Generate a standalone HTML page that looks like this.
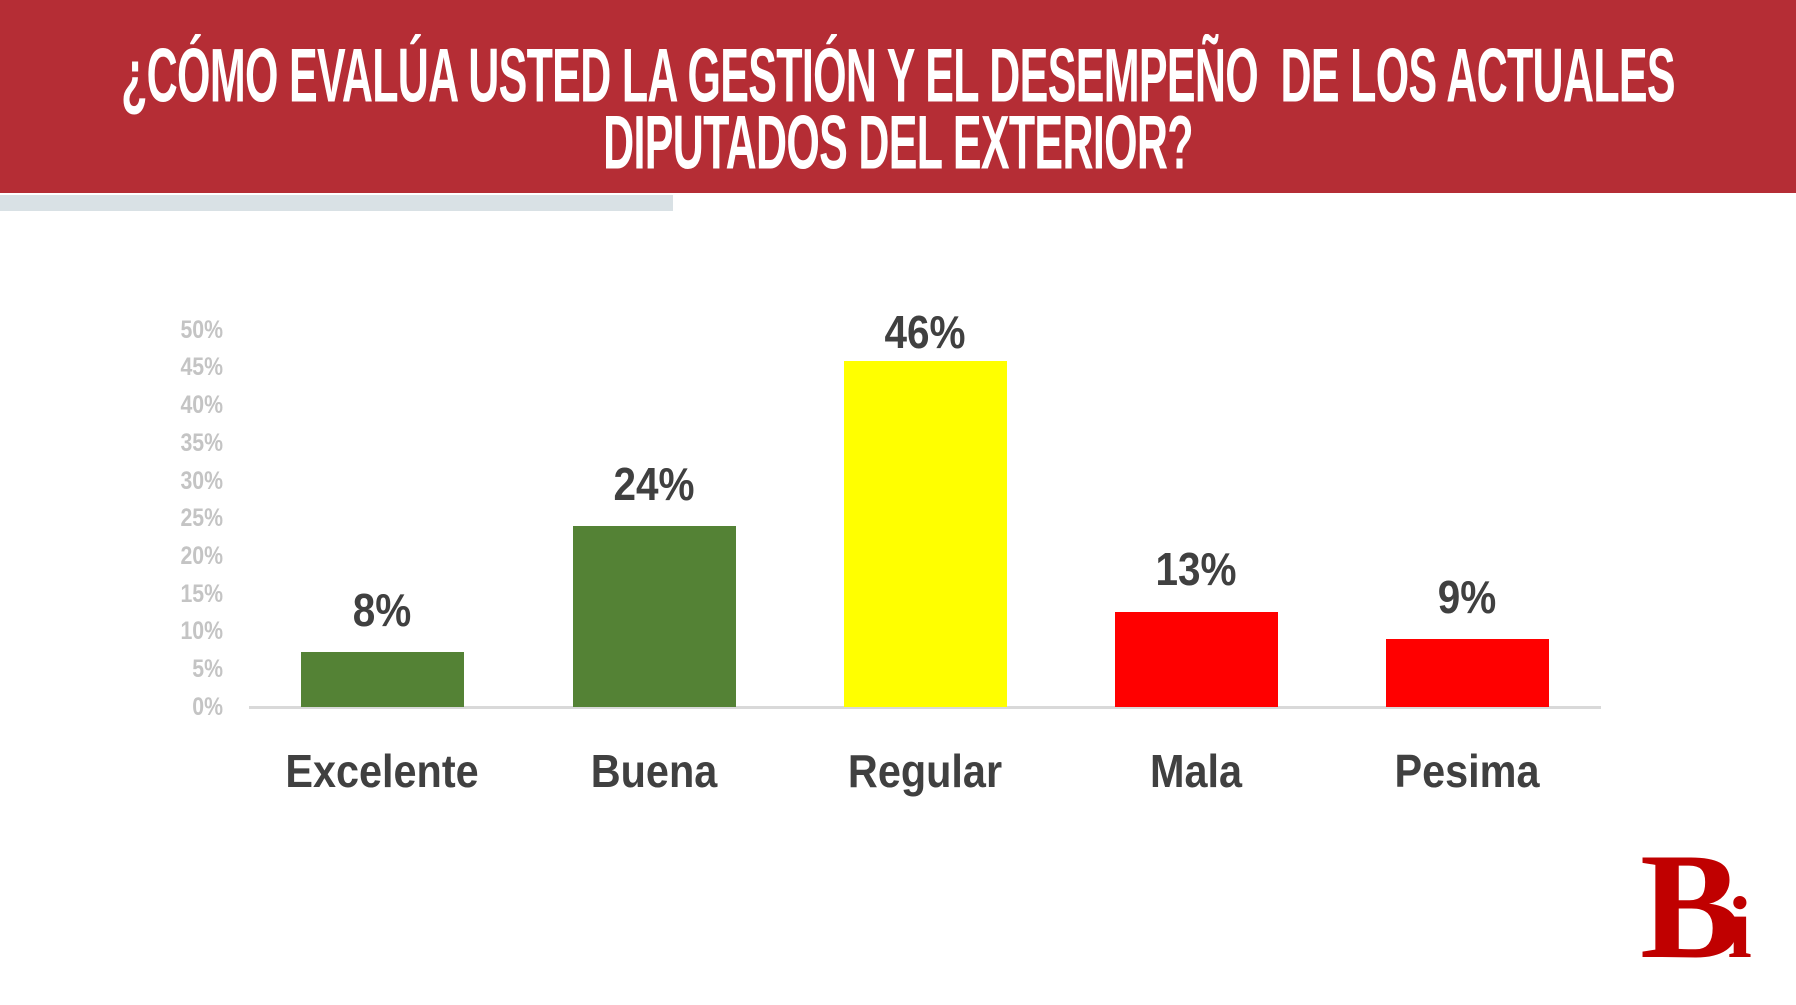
<!DOCTYPE html>
<html><head><meta charset="utf-8"><style>
body{margin:0;width:1796px;height:998px;background:#fff;position:relative;overflow:hidden;font-family:"Liberation Sans",sans-serif}
.hdr{position:absolute;left:0;top:0;width:1796px;height:193px;background:#b52d35}
.t{position:absolute;left:-1000px;width:3796px;text-align:center;color:#fff;font-weight:bold;font-size:62px;line-height:62px;white-space:nowrap;transform:scale(0.694,1.22);letter-spacing:-1px}
.g{position:absolute;left:0;top:195px;width:673px;height:16px;background:#d9e1e5}
.tick{position:absolute;width:80px;left:143px;text-align:right;color:#c4c4c4;font-size:25px;line-height:25px;font-weight:bold;transform:scaleX(0.85);transform-origin:right}
.bar{position:absolute;width:163px}
.v{position:absolute;width:200px;text-align:center;color:#404040;font-weight:bold;font-size:46px;line-height:46px;transform:scaleX(0.88)}
.c{position:absolute;width:260px;text-align:center;color:#404040;font-weight:bold;font-size:46px;line-height:46px;top:748px;transform:scaleX(0.9)}
</style></head><body>
<div class="hdr"></div>
<div class="t" style="top:46px">¿CÓMO EVALÚA USTED LA GESTIÓN Y EL DESEMPEÑO&nbsp; DE LOS ACTUALES</div>
<div class="t" style="top:113px">DIPUTADOS DEL EXTERIOR?</div>
<div class="g"></div>
<div class="tick" style="top:318px">50%</div>
<div class="tick" style="top:355px">45%</div>
<div class="tick" style="top:393px">40%</div>
<div class="tick" style="top:431px">35%</div>
<div class="tick" style="top:469px">30%</div>
<div class="tick" style="top:506px">25%</div>
<div class="tick" style="top:544px">20%</div>
<div class="tick" style="top:582px">15%</div>
<div class="tick" style="top:619px">10%</div>
<div class="tick" style="top:657px">5%</div>
<div class="tick" style="top:695px">0%</div>
<div style="position:absolute;left:249px;top:706px;width:1352px;height:3px;background:#d9d9d9"></div>
<div class="bar" style="left:301px;top:652px;height:55px;background:#548235"></div>
<div class="bar" style="left:573px;top:526px;height:181px;background:#548235"></div>
<div class="bar" style="left:844px;top:361px;height:346px;background:#ffff00"></div>
<div class="bar" style="left:1115px;top:612px;height:95px;background:#ff0000"></div>
<div class="bar" style="left:1386px;top:639px;height:68px;background:#ff0000"></div>
<div class="v" style="left:282px;top:587px">8%</div>
<div class="v" style="left:554px;top:461px">24%</div>
<div class="v" style="left:825px;top:309px">46%</div>
<div class="v" style="left:1096px;top:546px">13%</div>
<div class="v" style="left:1367px;top:574px">9%</div>
<div class="c" style="left:252px">Excelente</div>
<div class="c" style="left:524px">Buena</div>
<div class="c" style="left:795px">Regular</div>
<div class="c" style="left:1066px">Mala</div>
<div class="c" style="left:1337px">Pesima</div>
<div style="position:absolute;left:1640px;top:830px;font-family:'Liberation Serif',serif;font-weight:bold;font-size:152px;line-height:152px;color:#c00000;letter-spacing:-14px">B<span style="font-size:88px">i</span></div>
</body></html>
